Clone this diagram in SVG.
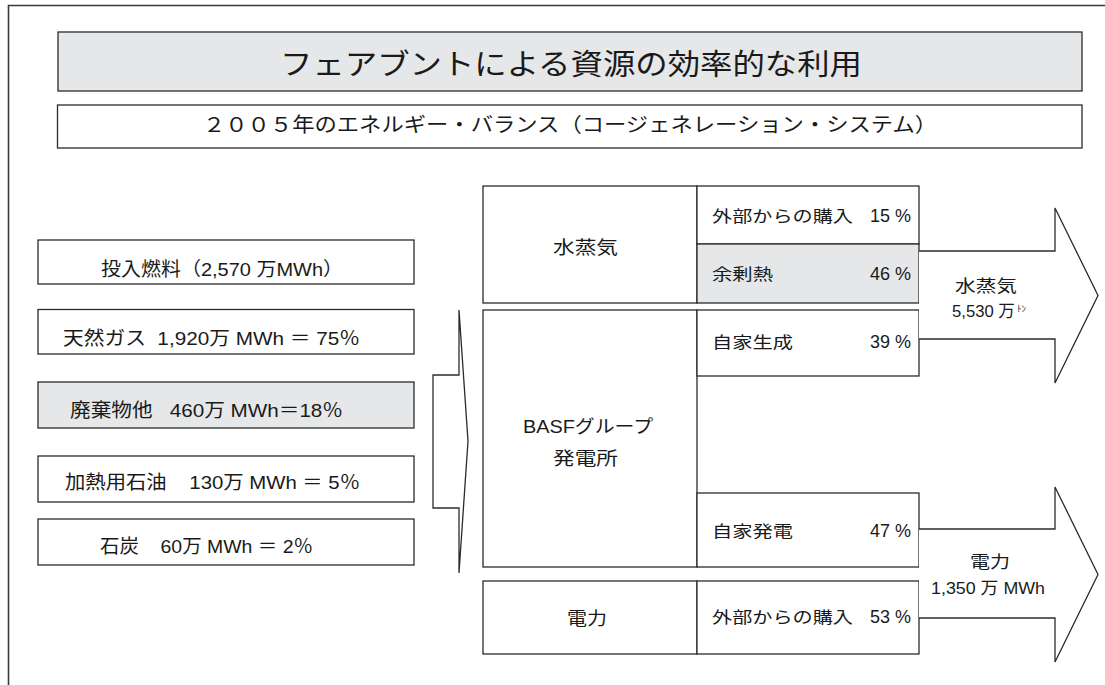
<svg xmlns="http://www.w3.org/2000/svg" width="1105" height="685" viewBox="0 0 1105 685">
<style>
  .box { fill: #ffffff; stroke: #2b2b2b; stroke-width: 1.3; }
  .gray { fill: #e6e7e8; stroke: #2b2b2b; stroke-width: 1.3; }
  .arrow { fill: #ffffff; stroke: #2b2b2b; stroke-width: 1.3; stroke-linejoin: miter; }
  text { font-family: "Liberation Sans", "Noto Sans CJK JP", sans-serif; fill: #1a1a1a; }
  .title { font-size: 29px; }
  .sub { font-size: 20px; }
  .left { font-size: 19px; }
  .mid { font-size: 18px; }
  .cell { font-size: 16px; }
  .pct { font-size: 18px; }
  .out { font-size: 17px; }
</style>
<rect width="1105" height="685" fill="#ffffff"/>
<path d="M8.5 685 V5.5 H1105" fill="none" stroke="#3a3a3a" stroke-width="1.6"/>

<g id="title">
  <rect class="gray" x="58" y="32" width="1024" height="59"/>
  <text class="title" x="280" y="75" textLength="582" lengthAdjust="spacingAndGlyphs">フェアブントによる資源の効率的な利用</text>
</g>
<g id="subtitle">
  <rect class="box" x="57.5" y="105" width="1024.5" height="43"/>
  <text class="sub" x="203" y="132" textLength="734" lengthAdjust="spacingAndGlyphs">２００５年のエネルギー・バランス（コージェネレーション・システム）</text>
</g>

<g id="input-fuel">
  <rect class="box" x="38" y="240" width="376" height="44"/>
  <text class="left" x="101" y="276" textLength="242" lengthAdjust="spacingAndGlyphs" xml:space="preserve">投入燃料（2,570 万MWh）</text>
</g>
<g id="natural-gas">
  <rect class="box" x="38" y="309.5" width="376" height="44.5"/>
  <text class="left" x="63" y="345" textLength="297" lengthAdjust="spacingAndGlyphs" xml:space="preserve">天然ガス  1,920万 MWh ＝ 75％</text>
</g>
<g id="waste">
  <rect class="gray" x="38" y="382" width="376" height="46"/>
  <text class="left" x="70" y="417" textLength="273" lengthAdjust="spacingAndGlyphs" xml:space="preserve">廃棄物他   460万 MWh＝18％</text>
</g>
<g id="heating-oil">
  <rect class="box" x="38" y="456" width="376" height="46"/>
  <text class="left" x="65" y="489" textLength="295" lengthAdjust="spacingAndGlyphs" xml:space="preserve">加熱用石油    130万 MWh ＝ 5％</text>
</g>
<g id="coal">
  <rect class="box" x="38" y="519" width="376" height="46"/>
  <text class="left" x="100" y="553" textLength="213" lengthAdjust="spacingAndGlyphs" xml:space="preserve">石炭    60万 MWh ＝ 2％</text>
</g>

<g id="steam">
  <rect class="box" x="483" y="186" width="214" height="117"/>
  <text class="mid" x="553" y="254" textLength="65" lengthAdjust="spacingAndGlyphs">水蒸気</text>
</g>
<g id="steam-purchase">
  <rect class="box" x="697" y="186" width="222" height="58"/>
  <text class="cell" x="712" y="222" textLength="141" lengthAdjust="spacingAndGlyphs">外部からの購入</text>
  <text class="pct" x="911" y="222" text-anchor="end">15 %</text>
</g>
<g id="surplus-heat">
  <rect class="gray" x="697" y="244" width="222" height="59"/>
  <text class="cell" x="712" y="280" textLength="61" lengthAdjust="spacingAndGlyphs">余剰熱</text>
  <text class="pct" x="911" y="280" text-anchor="end">46 %</text>
</g>
<g id="plant">
  <rect class="box" x="483" y="310" width="214" height="257"/>
  <text class="mid" x="523" y="433" textLength="130" lengthAdjust="spacingAndGlyphs">BASFグループ</text>
  <text class="mid" x="553" y="465" textLength="65" lengthAdjust="spacingAndGlyphs">発電所</text>
</g>
<g id="self-steam">
  <rect class="box" x="697" y="310" width="222" height="66"/>
  <text class="cell" x="712" y="348" textLength="81" lengthAdjust="spacingAndGlyphs">自家生成</text>
  <text class="pct" x="911" y="348" text-anchor="end">39 %</text>
</g>
<g id="self-power">
  <rect class="box" x="697" y="493" width="222" height="74"/>
  <text class="cell" x="712" y="537" textLength="81" lengthAdjust="spacingAndGlyphs">自家発電</text>
  <text class="pct" x="911" y="537" text-anchor="end">47 %</text>
</g>
<g id="power">
  <rect class="box" x="483" y="581" width="214" height="73"/>
  <text class="mid" x="567" y="625" textLength="40" lengthAdjust="spacingAndGlyphs">電力</text>
</g>
<g id="power-purchase">
  <rect class="box" x="697" y="581" width="222" height="73"/>
  <text class="cell" x="712" y="623" textLength="141" lengthAdjust="spacingAndGlyphs">外部からの購入</text>
  <text class="pct" x="911" y="623" text-anchor="end">53 %</text>
</g>

<g id="connectors">
  <polygon class="arrow" points="433,375 459,375 459,310 468,441 459,573 459,508 433,508"/>
  <path class="arrow" d="M919 251 H1055 V208 L1098 295.5 L1055 383 V339 H919"/>
  <path class="arrow" d="M919 529 H1055 V487 L1098 574.5 L1055 662 V618 H919"/>
</g>

<g id="steam-output">
  <text class="out" x="955" y="292" textLength="62" lengthAdjust="spacingAndGlyphs">水蒸気</text>
  <text class="out" x="952" y="317" textLength="63" lengthAdjust="spacingAndGlyphs">5,530 万</text>
  <text x="1017" y="312" font-size="9" fill="#888888">ﾄﾝ</text>
</g>
<g id="power-output">
  <text class="out" x="970" y="568" textLength="40" lengthAdjust="spacingAndGlyphs">電力</text>
  <text class="out" x="931" y="594" textLength="114" lengthAdjust="spacingAndGlyphs">1,350 万 MWh</text>
</g>
</svg>
